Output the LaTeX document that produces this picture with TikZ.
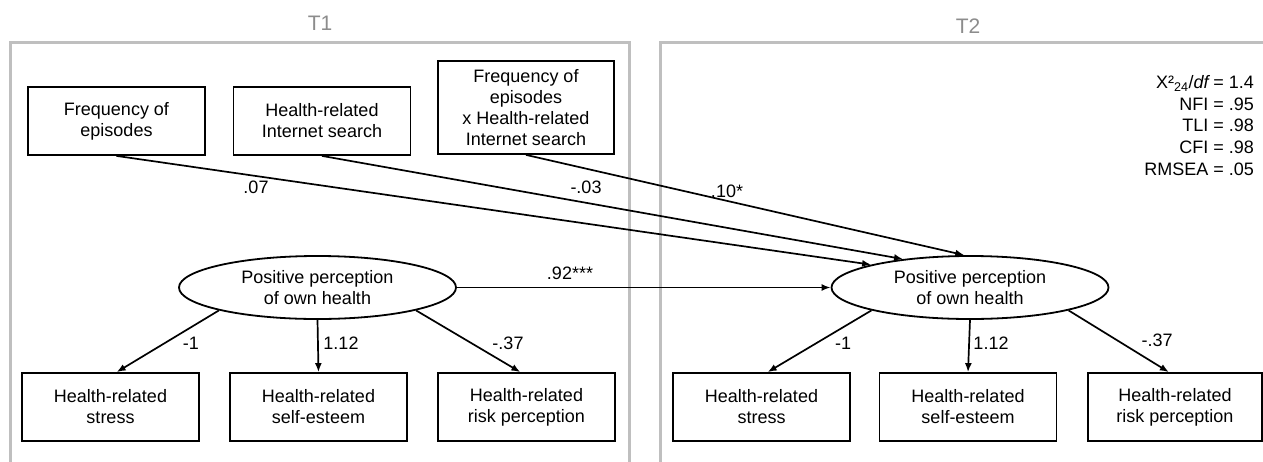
\documentclass[tikz,border=0pt]{standalone}
\usepackage{fontspec}
\setmainfont{Liberation Sans}
\usetikzlibrary{arrows.meta,shapes.geometric}

\begin{document}
\begin{tikzpicture}[x=1pt,y=-1pt,
    >={Latex[length=9pt,width=7pt]},
    every node/.style={font=\fontsize{18}{21}\selectfont},
    obs/.style={draw,line width=1.8pt,minimum width=177pt,minimum height=68pt,align=center,inner sep=0pt},
    latent/.style={draw,ellipse,line width=1.8pt,minimum width=277pt,minimum height=63pt,align=center,inner sep=0pt},
    reg/.style={->,line width=1.7pt},
    panel/.style={line width=3pt,black!25},
    wave/.style={text=black!45,font=\fontsize{21}{24}\selectfont},
    coef/.style={inner sep=0pt}]
            \useasboundingbox (0,0) rectangle (1263,461);

            % the two waves
            \draw[panel] (10,470) -- (10,42) -- (629,42) -- (629,470);
            \draw[panel] (660,470) -- (660,42) -- (1275,42);
            \node[wave] (waveA) at (320,23) {T1};
            \node[wave] (waveB) at (968,26) {T2};

            \node[obs] (freq) at (116.5,121) {Frequency of\\episodes};
            \node[obs] (search) at (322,121) {Health-related\\Internet search};
            \node[obs,minimum width=176pt,minimum height=93pt] (inter) at (526,107.5) {Frequency of\\episodes\\x Health-related\\Internet search};

            \node[latent] (posA) at (317.5,287.5) {Positive perception\\of own health};
            \node[latent] (posB) at (970,287.5) {Positive perception\\of own health};

            \node[obs] (stressA) at (110.5,407) {Health-related\\stress};
            \node[obs] (esteemA) at (318.5,407) {Health-related\\self-esteem};
            \node[obs] (riskA) at (526.5,407) {Health-related\\risk perception};
            \node[obs] (stressB) at (761.5,407) {Health-related\\stress};
            \node[obs] (esteemB) at (968,407) {Health-related\\self-esteem};
            \node[obs,minimum width=174pt] (riskB) at (1175,407) {Health-related\\risk perception};

            \draw[reg] (freq.south) -- (posB.167);
            \draw[reg] (search.south) -- (posB.157);
            \draw[reg] (inter.south) -- (posB.100);
            \draw[reg] (posA.east) -- (posB.west);

            \draw[reg] (posA.south west) -- (stressA.80);
            \draw[reg] (posA.south) -- (esteemA.north);
            \draw[reg] (posA.south east) -- (riskA.100);
            \draw[reg] (posB.south west) -- (stressB.80);
            \draw[reg] (posB.south) -- (esteemB.north);
            \draw[reg] (posB.south east) -- (riskB.100);

            \node[coef] (cFreq) at (256,187) {.07};
            \node[coef] (cSearch) at (586,187) {-.03};
            \node[coef] (cInter) at (727,191) {.10*};
            \node[coef] (cStab) at (570,273) {.92***};
            \node[coef] (cStressA) at (191,343) {-1};
            \node[coef] (cEsteemA) at (341,343) {1.12};
            \node[coef] (cRiskA) at (508,343) {-.37};
            \node[coef] (cStressB) at (843,343) {-1};
            \node[coef] (cEsteemB) at (991,343) {1.12};
            \node[coef] (cRiskB) at (1157,340) {-.37};

            \node[coef,align=right,anchor=east,font=\fontsize{18}{21.7}\selectfont] (fit) at (1254,125.5)
                {X²\textsubscript{24}/\textit{df}\,= 1.4\\NFI = .95\\TLI = .98\\CFI = .98\\RMSEA = .05};
        \end{tikzpicture}
\end{document}
